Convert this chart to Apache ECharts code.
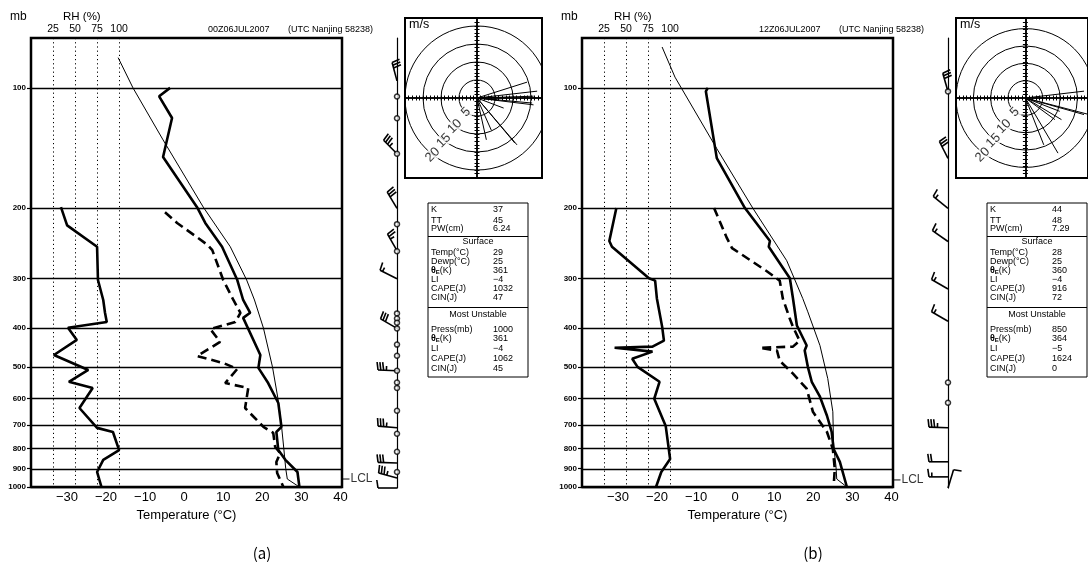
<!DOCTYPE html>
<html><head><meta charset="utf-8">
<script src="https://cdn.jsdelivr.net/npm/echarts@6/dist/echarts.min.js"></script>
<style>html,body{margin:0;padding:0;background:#fff}#c{width:1088px;height:574px}</style>
</head><body><div id="c"></div>
<script>
// ---------------- DATA ----------------
const pressureLevels = [100,200,300,400,500,600,700,800,900,1000];
const tempTicks = [-30,-20,-10,0,10,20,30,40];
const rhTicks = [25,50,75,100];
const ringSpeeds = [5,10,15,20];

// panel (a) 00Z  : [x-axis value, pressure mb]
const tempA = [[-3.6,100],[-6.4,105],[-3.1,119],[-5.4,149],[3.3,199],[5.4,218],[9.7,250],[13.6,303],[15.1,340],[16.9,366],[15.1,377],[19.5,467],[19.0,503],[21.5,549],[24.1,616],[24.9,707],[23.6,728],[24.1,808],[25.9,855],[29.0,917],[29.5,1000]];
const dewA = [[-4.9,205],[-1.8,218],[5.9,247],[7.2,255],[10.0,303],[12.6,340],[14.4,366],[13.1,386],[6.7,402],[9.2,433],[3.3,470],[10.0,489],[13.6,506],[10.5,549],[16.4,565],[15.6,634],[20.3,707],[22.8,732],[23.3,794],[24.6,822],[23.6,866],[23.8,922],[25.4,1000]];
const parcelA = [[-16.9,84],[-13.1,100],[-5.4,135],[4.9,199],[11.8,250],[16.0,303],[18.0,340],[20.3,400],[22.6,500],[24.0,600],[24.9,700],[25.5,800],[26.0,900],[26.4,955],[29.5,1000]];
const rhA = [[34,199],[41,221],[75,250],[76,303],[82,340],[84,366],[86,386],[42,399],[52,428],[26,467],[65,509],[43,545],[70,565],[55,634],[75,711],[93,728],[100,808],[82,855],[75,917],[80,1000]];
const lclA = 955;
// wind: [pressure, direction deg, speed kt]
const windA = [[96,345,30],[146,315,35],[200,329,30],[255,330,25],[300,297,15],[399,300,30],[509,272,35],[707,275,35],[866,272,30],[944,285,35],[1000,270,10]];
const calmA = [105,119,146,219,256,366,377,386,399,438,467,509,545,562,641,732,812,912];
// hodograph [u, v] m/s
const hodoA = [[13.9,4.4],[16.7,1.9],[15.7,0.5],[15.3,-1.4],[15.7,-1.9],[7.4,-2.8],[5.6,-0.5],[11.1,-13],[10.5,-12.5],[2.6,-11.6],[4,-9]];
const statValuesA = ['37','45','6.24','29','25','361','\u22124','1032','47','1000','361','\u22124','1062','45'];

// panel (b) 12Z
const tempB = [[-7.0,100],[-7.5,102],[-4.7,150],[2.5,200],[8.9,242],[8.6,250],[14.0,300],[14.8,337],[15.8,394],[18.3,442],[17.8,455],[18.6,500],[19.6,545],[21.7,594],[23.5,663],[24.7,728],[25.2,803],[26.8,865],[28.6,1000]];
const dewB = [[-5.4,200],[-2.1,238],[-0.8,252],[8.1,288],[11.4,304],[12.2,337],[14.0,379],[14.8,397],[16.5,430],[14.8,445],[6.3,448],[10.7,455],[11.4,483],[14.8,520],[18.3,567],[19.9,648],[23.5,728],[25.0,803],[25.5,901],[25.2,1000]];
const parcelB = [[-18.7,79],[-15.4,94],[-4.7,142],[4.5,200],[13.2,271],[17.3,337],[18.6,364],[21.7,442],[23.7,535],[25.0,648],[25.2,789],[25.8,886],[26.0,955],[28.6,1000]];
const rhB = [[39,200],[31,242],[34,250],[76,300],[83,304],[85,337],[91,397],[93,430],[80,445],[37,448],[80,458],[57,477],[63,500],[88,545],[82,601],[95,703],[100,851],[90,917],[84,1000]];
const lclB = 960;
const windB = [[102,344,30],[150,333,30],[200,309,15],[242,305,15],[318,300,15],[383,300,15],[707,272,35],[860,270,20],[938,270,15],[1000,17,10]];
const calmB = [102,545,612];
const hodoB = [[16.9,1.9],[20,-5],[16.9,-4.6],[9.9,-3.7],[10.4,-6],[5.3,-13],[9.4,-15.3],[8.5,-6]];
const statValuesB = ['44','48','7.29','28','25','360','\u22124','916','72','850','364','\u22125','1624','0'];

const statLabels = ['K','TT','PW(cm)','Temp(\u00b0C)','Dewp(\u00b0C)','{t|\u03b8}{s|E}(K)','LI','CAPE(J)','CIN(J)','Press(mb)','{t|\u03b8}{s|E}(K)','LI','CAPE(J)','CIN(J)'];

// ---------------- BUILD ----------------
const FONT = 'Liberation Sans';
const grids = [], xAxes = [], yAxes = [], series = [], graphics = [];
const hodoTicks = [];
for (let i = -22; i <= 22; i++) if (i !== 0) hodoTicks.push(i);

function barbRender(params, api) {
  const p = api.value(1), dir = api.value(2), spd = api.value(3);
  const b = api.coord([0, p]);
  const r = dir * Math.PI / 180;
  const ux = Math.sin(r), uy = -Math.cos(r);
  const nx = -uy, ny = ux;
  const L = 19, F = 8, step = 2.8;
  const tip = [b[0] + ux * L, b[1] + uy * L];
  const st = {stroke: '#000', lineWidth: 1.6};
  const ch = [{type: 'line', shape: {x1: b[0], y1: b[1], x2: tip[0], y2: tip[1]}, style: st}];
  let s = Math.round(spd / 5) * 5;
  const flags = Math.floor(s / 50); s -= flags * 50;
  const full = Math.floor(s / 10); s -= full * 10;
  const half = s >= 5 ? 1 : 0;
  let d = 0;
  for (let i = 0; i < flags; i++) {
    const a = [tip[0] - ux * d, tip[1] - uy * d], c = [tip[0] - ux * (d + 4), tip[1] - uy * (d + 4)];
    ch.push({type: 'polygon', shape: {points: [a, [a[0] + nx * F, a[1] + ny * F], c]}, style: {fill: '#000'}});
    d += 5;
  }
  for (let i = 0; i < full; i++) {
    const a = [tip[0] - ux * d, tip[1] - uy * d];
    ch.push({type: 'line', shape: {x1: a[0], y1: a[1], x2: a[0] + nx * F + ux * 1.2, y2: a[1] + ny * F + uy * 1.2}, style: st});
    d += step;
  }
  if (half) {
    if (d === 0) d = step;
    const a = [tip[0] - ux * d, tip[1] - uy * d];
    ch.push({type: 'line', shape: {x1: a[0], y1: a[1], x2: a[0] + nx * F * 0.55, y2: a[1] + ny * F * 0.55}, style: st});
  }
  return {type: 'group', children: ch};
}
function ringRender(params, api) {
  const o = api.coord([0, 0]);
  const r = api.size([api.value(0), 0])[0];
  const cs = params.coordSys;
  return {type: 'group', clipPath: {type: 'rect', shape: {x: cs.x, y: cs.y, width: cs.width, height: cs.height}},
    children: [{type: 'circle', shape: {cx: o[0], cy: o[1], r: r}, style: {fill: null, stroke: '#000', lineWidth: 1}}]};
}
function rayRender(params, api) {
  const o = api.coord([0, 0]);
  const e = api.coord([api.value(0), api.value(1)]);
  return {type: 'line', shape: {x1: o[0], y1: o[1], x2: e[0], y2: e[1]}, style: {stroke: '#000', lineWidth: 1}};
}
function hLineRender(params, api) {
  const cs = params.coordSys;
  const y = Math.round(api.coord([0, api.value(1)])[1]) + 0.5;
  return {type: 'line', shape: {x1: cs.x, y1: y, x2: cs.x + cs.width, y2: y}, style: {stroke: '#000', lineWidth: 1.6}};
}
function vDotRender(params, api) {
  const cs = params.coordSys;
  const x = Math.round(api.coord([api.value(0), 100])[0]) + 0.5;
  return {type: 'line', shape: {x1: x, y1: cs.y, x2: x, y2: cs.y + cs.height}, style: {stroke: '#000', lineWidth: 1, lineDash: [1.2, 3]}};
}
const fmtT = v => v < 0 ? '\u2212' + Math.abs(v) : String(v);

function addPanel(P, dx, sdx) {
  const g0 = grids.length;
  grids.push({left: 31 + dx, top: 38, width: 311, height: 449, show: true, borderColor: '#000', borderWidth: 2.5});
  grids.push({left: 397 + dx, top: 38, width: 20, height: 450});
  grids.push({left: 405 + dx, top: 18, width: 137, height: 160, show: true, borderColor: '#000', borderWidth: 2});
  const xi = xAxes.length, yi = yAxes.length;
  xAxes.push({gridIndex: g0, type: 'value', min: -39.2, max: 40.4, position: 'bottom',
    axisLine: {show: false, onZero: false}, splitLine: {show: false}, axisTick: {show: false},
    axisLabel: {customValues: tempTicks, formatter: fmtT, color: '#000', fontSize: 13, fontFamily: FONT, margin: 4},
    name: 'Temperature (\u00b0C)', nameLocation: 'middle', nameGap: 21,
    nameTextStyle: {color: '#000', fontSize: 13, fontFamily: FONT}});
  xAxes.push({gridIndex: g0, type: 'value', min: 0, max: 353, position: 'top',
    axisLine: {show: false, onZero: false}, splitLine: {show: false}, axisTick: {show: false},
    axisLabel: {customValues: rhTicks, color: '#000', fontSize: 10.5, fontFamily: FONT, margin: 3}});
  xAxes.push({gridIndex: g0 + 1, type: 'value', min: 0, max: 1, show: false});
  const hx = {gridIndex: g0 + 2, type: 'value', min: -20, max: 18.05,
    axisLine: {show: true, onZero: true, lineStyle: {color: '#000', width: 1.5}},
    axisTick: {show: true, customValues: hodoTicks, length: 2.5, lineStyle: {color: '#000', width: 1}},
    axisLabel: {show: false}, splitLine: {show: false}};
  xAxes.push(Object.assign({position: 'bottom'}, hx));
  xAxes.push(Object.assign({position: 'top'}, hx));

  yAxes.push({gridIndex: g0, type: 'log', logBase: 10, inverse: true, min: 75, max: 1000, position: 'left',
    axisLine: {show: false, onZero: false}, splitLine: {show: false},
    axisTick: {show: true, customValues: pressureLevels, length: 4, lineStyle: {color: '#000', width: 1.2}},
    axisLabel: {customValues: pressureLevels, formatter: v => String(v), color: '#000', fontSize: 8, fontWeight: 'bold', fontFamily: FONT, margin: 5}});
  yAxes.push({gridIndex: g0 + 1, type: 'log', logBase: 10, inverse: true, min: 75, max: 1000, position: 'left',
    axisLine: {show: true, onZero: false, lineStyle: {color: '#000', width: 1.2}},
    axisTick: {show: false}, axisLabel: {show: false}, splitLine: {show: false}});
  const hy = {gridIndex: g0 + 2, type: 'value', min: -22.2, max: 22.2,
    axisLine: {show: true, onZero: true, lineStyle: {color: '#000', width: 1.5}},
    axisTick: {show: true, customValues: hodoTicks, length: 2.5, lineStyle: {color: '#000', width: 1}},
    axisLabel: {show: false}, splitLine: {show: false}};
  yAxes.push(Object.assign({position: 'left'}, hy));
  yAxes.push(Object.assign({position: 'right'}, hy));

  series.push({type: 'custom', xAxisIndex: xi, yAxisIndex: yi, silent: true, animation: false, clip: false, z: 2,
    encode: {x: 0, y: 1}, data: pressureLevels.map(p => [0, p]), renderItem: hLineRender});
  series.push({type: 'custom', xAxisIndex: xi + 1, yAxisIndex: yi, silent: true, animation: false, clip: false, z: 2,
    encode: {x: 0, y: 1}, data: rhTicks.map(v => [v, 100]), renderItem: vDotRender});
  const base = {type: 'line', xAxisIndex: xi, yAxisIndex: yi, symbol: 'none', silent: true, animation: false, z: 4};
  series.push(Object.assign({}, base, {data: P.temp, lineStyle: {color: '#000', width: 2.6}}));
  series.push(Object.assign({}, base, {data: P.dew, lineStyle: {color: '#000', width: 2.6, type: [9, 5]}}));
  series.push(Object.assign({}, base, {data: P.parcel, lineStyle: {color: '#000', width: 1}}));
  series.push(Object.assign({}, base, {xAxisIndex: xi + 1, data: P.rh, lineStyle: {color: '#000', width: 2.6}}));
  series.push({type: 'scatter', xAxisIndex: xi, yAxisIndex: yi, clip: false, silent: true, animation: false,
    data: [[40.4, P.lcl]], symbol: 'rect', symbolSize: [7, 1.2], symbolOffset: [4, 0], itemStyle: {color: '#000'},
    label: {show: true, position: 'right', distance: 1, formatter: 'LCL', color: '#000', fontSize: 12, fontFamily: FONT}});
  series.push({type: 'scatter', xAxisIndex: xi + 2, yAxisIndex: yi + 1, clip: false, silent: true, animation: false, z: 6,
    data: P.calm.map(p => [0, p]), symbol: 'circle', symbolSize: 5,
    itemStyle: {color: '#fff', borderColor: '#000', borderWidth: 1.5}});
  series.push({type: 'custom', xAxisIndex: xi + 2, yAxisIndex: yi + 1, clip: false, silent: true, animation: false, z: 5,
    encode: {x: 0, y: 1}, data: P.wind.map(w => [0, w[0], w[1], w[2]]), renderItem: barbRender});
  series.push({type: 'custom', xAxisIndex: xi + 3, yAxisIndex: yi + 2, silent: true, animation: false,
    encode: {x: 0, y: 1}, data: ringSpeeds.map(r => [r, 0]), renderItem: ringRender});
  series.push({type: 'custom', xAxisIndex: xi + 3, yAxisIndex: yi + 2, silent: true, animation: false, clip: true,
    encode: {x: 0, y: 1}, data: P.hodo, renderItem: rayRender});
  const ang = 232 * Math.PI / 180;
  series.push({type: 'scatter', xAxisIndex: xi + 3, yAxisIndex: yi + 2, silent: true, animation: false,
    data: ringSpeeds.map(r => [r * Math.cos(ang), r * Math.sin(ang), r]), symbolSize: 0,
    label: {show: true, position: 'inside', rotate: 45, formatter: p => String(p.value[2]), color: '#000', fontSize: 13, fontFamily: FONT,
      backgroundColor: '#fff', padding: [0, 0]}});

  // texts
  const T = (x, y, text, size, extra) => graphics.push(Object.assign({type: 'text', x: x + dx, y: y, silent: true,
    style: Object.assign({text: text, fill: '#000', font: size + 'px "' + FONT + '"', textVerticalAlign: 'middle'}, extra || {})}));
  T(10, 17, 'mb', 12);
  T(63, 17, 'RH (%)', 11.5);
  T(208, 30, P.title, 9);
  T(288, 30, '(UTC Nanjing 58238)', 9);
  T(409, 25, 'm/s', 12.5);
  graphics.push({type: 'text', x: 262 + dx, y: 553, silent: true,
    style: {text: P.tag, fill: '#000', font: '15px "Noto Sans CJK SC"', textAlign: 'center', textVerticalAlign: 'middle'}});
  // stats box
  const bx = 428 + sdx, by = 203, bw = 100, bh = 174;
  const SF = '9px "' + FONT + '"';
  graphics.push({type: 'rect', silent: true, shape: {x: bx, y: by, width: bw, height: bh}, style: {fill: '#fff', stroke: '#000', lineWidth: 1}});
  graphics.push({type: 'line', silent: true, shape: {x1: bx, y1: 236.5, x2: bx + bw, y2: 236.5}, style: {stroke: '#000', lineWidth: 1}});
  graphics.push({type: 'line', silent: true, shape: {x1: bx, y1: 307.5, x2: bx + bw, y2: 307.5}, style: {stroke: '#000', lineWidth: 1}});
  const rows = [210, 221, 229, 253, 262, 271, 280, 289, 298, 330, 339, 349, 359, 369];
  const rich = {t: {font: 'bold 9px "' + FONT + '"'}, s: {font: 'bold 6px "' + FONT + '"', verticalAlign: 'bottom'}};
  statLabels.forEach((lab, i) => {
    graphics.push({type: 'text', x: bx + 3, y: rows[i], silent: true,
      style: {text: lab, rich: rich, fill: '#000', font: SF, textVerticalAlign: 'middle'}});
    graphics.push({type: 'text', x: bx + 65, y: rows[i], silent: true,
      style: {text: P.stats[i], fill: '#000', font: SF, textVerticalAlign: 'middle'}});
  });
  graphics.push({type: 'text', x: bx + bw / 2, y: 242, silent: true,
    style: {text: 'Surface', fill: '#000', font: SF, textAlign: 'center', textVerticalAlign: 'middle'}});
  graphics.push({type: 'text', x: bx + bw / 2, y: 315, silent: true,
    style: {text: 'Most Unstable', fill: '#000', font: SF, textAlign: 'center', textVerticalAlign: 'middle'}});
}

addPanel({temp: tempA, dew: dewA, parcel: parcelA, rh: rhA, lcl: lclA, wind: windA, calm: calmA, hodo: hodoA,
  stats: statValuesA, title: '00Z06JUL2007', tag: '(a)'}, 0, 0);
addPanel({temp: tempB, dew: dewB, parcel: parcelB, rh: rhB, lcl: lclB, wind: windB, calm: calmB, hodo: hodoB,
  stats: statValuesB, title: '12Z06JUL2007', tag: '(b)'}, 551, 559);

const chart = echarts.init(document.getElementById('c'), null, {renderer: 'canvas'});
chart.setOption({
  backgroundColor: '#fff', animation: false,
  grid: grids, xAxis: xAxes, yAxis: yAxes, series: series,
  graphic: {elements: graphics}
});
</script></body></html>
